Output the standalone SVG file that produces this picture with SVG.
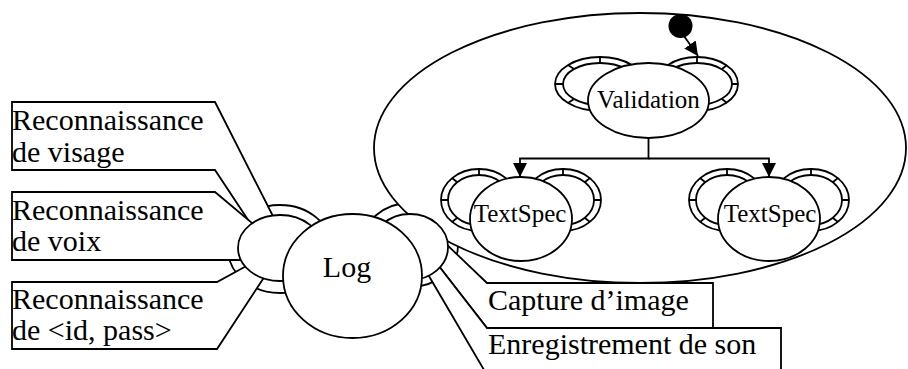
<svg xmlns="http://www.w3.org/2000/svg" width="908" height="369" viewBox="0 0 908 369">
<style>
  .s{fill:#fff;stroke:#000;stroke-width:1.8}
  .n{fill:none;stroke:#000;stroke-width:1.8}
  .t{font-family:"Liberation Serif","Times New Roman",serif;fill:#000}
  .b{font-size:30px}
  .m{font-size:25px;text-anchor:middle}
</style>
<defs>
  <marker id="ah" viewBox="0 0 14 14" refX="14" refY="7" markerWidth="14" markerHeight="14" markerUnits="userSpaceOnUse" orient="auto">
    <path d="M0,0 L14,7 L0,14 Z" fill="#000"/>
  </marker>
</defs>

<!-- ring behind Log right ear -->
<g id="log-right-ring">
  <ellipse class="s" cx="410" cy="245" rx="48" ry="42"/>
</g>

<!-- composite state -->
<g id="composite">
  <ellipse class="s" cx="640" cy="148" rx="266" ry="135"/>
</g>

<g id="start">
  <circle cx="680.5" cy="26" r="12" fill="#000"/>
</g>

<g id="validation">
  <ellipse class="s" cx="600" cy="84" rx="45" ry="27"/>
  <ellipse class="s" cx="600" cy="84" rx="37" ry="21"/>
  <path class="n" d="M600,63V57 M574,69 L568,65 M563,84H555 M574,99 L568,103"/>
  <ellipse class="s" cx="697" cy="84" rx="41" ry="27"/>
  <ellipse class="s" cx="697" cy="84" rx="35" ry="21"/>
  <path class="n" d="M697,63V57 M722,69 L727,65 M732,84H738 M722,99 L727,103"/>
  <ellipse class="s" cx="648.5" cy="100.5" rx="60.5" ry="37.5"/>
  <text class="t m" x="648.5" y="108">Validation</text>
</g>

<g id="textspec1">
  <ellipse class="s" cx="479" cy="200" rx="38" ry="31"/>
  <ellipse class="s" cx="479" cy="200" rx="31" ry="25"/>
  <path class="n" d="M479,175V169 M457,182 L452,178 M448,200H441 M457,218 L452,222"/>
  <ellipse class="s" cx="563" cy="200" rx="38" ry="31"/>
  <ellipse class="s" cx="563" cy="200" rx="31" ry="25"/>
  <path class="n" d="M563,175V169 M585,182 L590,178 M594,200H601 M585,218 L590,222"/>
  <ellipse class="s" cx="521" cy="219" rx="51" ry="42"/>
  <text class="t m" x="520" y="222">TextSpec</text>
</g>

<g id="textspec2">
  <ellipse class="s" cx="727" cy="200" rx="38" ry="31"/>
  <ellipse class="s" cx="727" cy="200" rx="31" ry="25"/>
  <path class="n" d="M727,175V169 M705,182 L700,178 M696,200H689 M705,218 L700,222"/>
  <ellipse class="s" cx="811" cy="200" rx="38" ry="31"/>
  <ellipse class="s" cx="811" cy="200" rx="31" ry="25"/>
  <path class="n" d="M811,175V169 M833,182 L838,178 M842,200H849 M833,218 L838,222"/>
  <ellipse class="s" cx="769" cy="219" rx="51" ry="42"/>
  <text class="t m" x="770" y="222">TextSpec</text>
</g>

<g id="connectors">
  <path class="n" d="M684,36 L698,56" marker-end="url(#ah)"/>
  <path class="n" d="M648.5,138V158.5H520V177" marker-end="url(#ah)"/>
  <path class="n" d="M648.5,158.5H769V177" marker-end="url(#ah)"/>
</g>

<!-- ring behind Log left ear -->
<g id="log-left-ring">
  <ellipse class="s" cx="280" cy="249" rx="52" ry="44"/>
</g>

<g id="note-visage">
  <polygon class="s" points="12,102 215,102 278,226 256,232 215,170 12,170"/>
  <text class="t b" x="12" y="130">Reconnaissance</text>
  <text class="t b" x="12" y="162">de visage</text>
</g>
<g id="note-voix">
  <polygon class="s" points="12,192 215,192 258,228 250,260 215,260 12,260"/>
  <text class="t b" x="12" y="220">Reconnaissance</text>
  <text class="t b" x="12" y="251">de voix</text>
</g>
<g id="note-idpass">
  <polygon class="s" points="12,282 217,282 250,264 265,276 217,349 12,349"/>
  <text class="t b" x="12" y="309">Reconnaissance</text>
  <text class="t b" x="12" y="340">de &lt;id, pass&gt;</text>
</g>
<g id="note-capture">
  <polygon class="s" points="487,283 713,283 713,328 487,328 438,265 443,241"/>
  <text class="t b" x="488" y="310">Capture d’image</text>
</g>
<g id="note-son">
  <polygon class="s" points="487,328 781,328 781,375 487,375 426,271 438,265"/>
  <text class="t b" x="488" y="354">Enregistrement de son</text>
</g>

<g id="log">
  <ellipse class="s" cx="280" cy="248" rx="42" ry="33"/>
  <ellipse class="s" cx="410" cy="247" rx="38" ry="33"/>
  <ellipse class="s" cx="352.5" cy="276" rx="69.5" ry="62"/>
  <text class="t b" x="347" y="277" text-anchor="middle">Log</text>
</g>
</svg>
